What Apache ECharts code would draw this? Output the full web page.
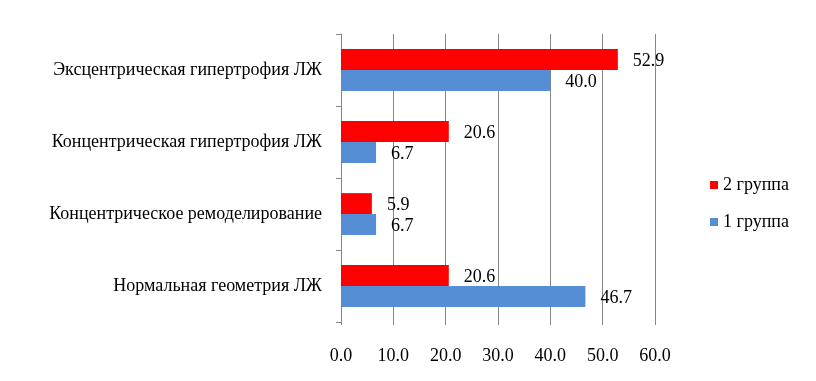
<!DOCTYPE html>
<html>
<head>
<meta charset="utf-8">
<script src="https://cdn.jsdelivr.net/npm/echarts@6/dist/echarts.min.js"></script>
<style>
  html, body { margin: 0; padding: 0; background: #fff; }
  #chart { width: 816px; height: 381px; }
</style>
</head>
<body>
<div id="chart"></div>
<script>
// категории снизу вверх
const categories = [
  'Нормальная геометрия ЛЖ',
  'Концентрическое ремоделирование',
  'Концентрическая гипертрофия ЛЖ',
  'Эксцентрическая гипертрофия ЛЖ'
]
const group1 = [46.7, 6.7, 6.7, 40.0]
const group2 = [20.6, 5.9, 20.6, 52.9]
const xTicks = { min: 0, max: 60, step: 10 }

const font = 'Liberation Serif, Times New Roman, serif'
const chart = echarts.init(document.getElementById('chart'))

const labelStyle = {
  show: true,
  position: 'right',
  distance: 15,
  offset: [0, 2],
  color: '#000',
  fontFamily: font,
  fontSize: 18,
  formatter: p => p.value.toFixed(1)
}

chart.setOption({
  animation: false,
  textStyle: { fontFamily: font },
  grid: { left: 341, right: 161, top: 34, bottom: 59 },
  legend: {
    orient: 'vertical',
    left: 705,
    top: 171,
    itemGap: 19,
    icon: 'rect',
    itemWidth: 8,
    itemHeight: 8,
    data: ['2 группа', '1 группа'],
    textStyle: { fontFamily: font, fontSize: 18, color: '#000' }
  },
  xAxis: {
    type: 'value',
    min: xTicks.min,
    max: xTicks.max,
    interval: xTicks.step,
    axisLine: { show: false },
    axisTick: { show: true, length: 3, lineStyle: { color: '#868686' } },
    splitLine: { show: true, lineStyle: { color: '#868686', width: 1 } },
    axisLabel: {
      margin: 25,
      color: '#000',
      fontFamily: font,
      fontSize: 18,
      formatter: v => v.toFixed(1)
    }
  },
  yAxis: {
    type: 'category',
    data: categories,
    axisLine: { show: true, lineStyle: { color: '#868686' } },
    axisTick: { show: true, length: 5, lineStyle: { color: '#868686' } },
    axisLabel: { margin: 19, color: '#000', fontFamily: font, fontSize: 18, padding: [6, 0, 0, 0] }
  },
  series: [
    {
      name: '2 группа',
      type: 'bar',
      data: group2,
      barGap: '0%',
      barCategoryGap: '42%',
      itemStyle: { color: '#FF0000' },
      label: labelStyle
    },
    {
      name: '1 группа',
      type: 'bar',
      data: group1,
      barGap: '0%',
      barCategoryGap: '42%',
      itemStyle: { color: '#558ED5' },
      label: labelStyle
    }
  ]
})
</script>
</body>
</html>
